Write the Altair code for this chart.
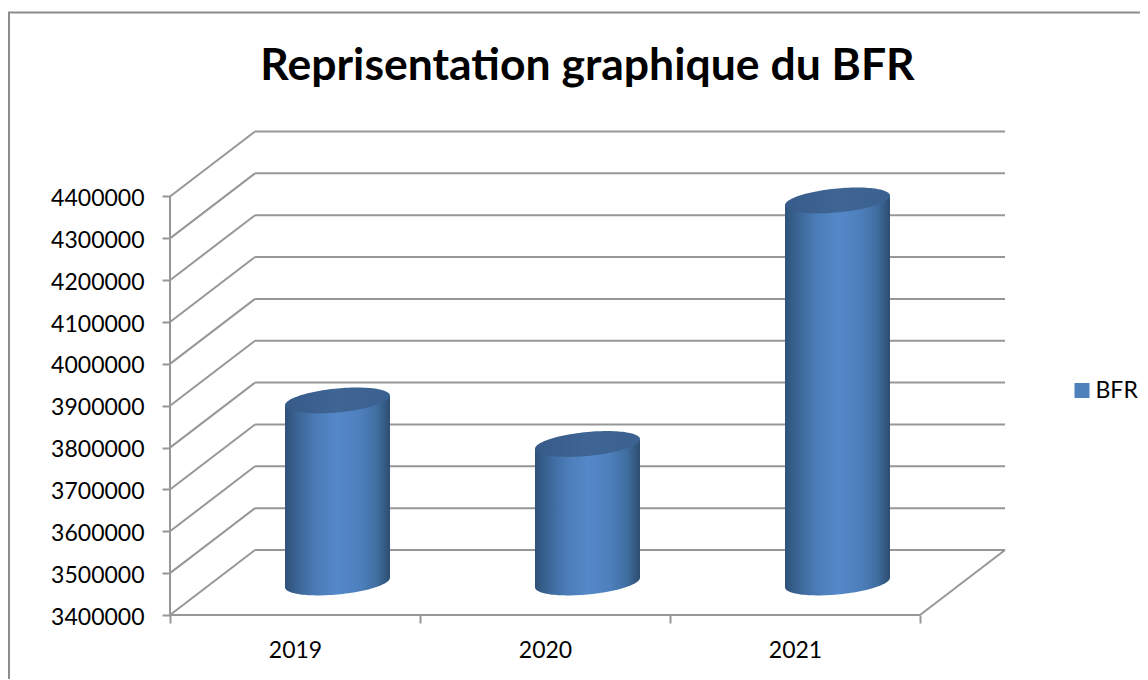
import altair as alt
import math
import pandas as pd

TITLE = "Reprisentation graphique du BFR"
years = ["2019", "2020", "2021"]
bfr = [3835000, 3731000, 4313000]
y_ticks = [3400000, 3500000, 3600000, 3700000, 3800000, 3900000, 4000000, 4100000, 4200000, 4300000, 4400000]
series_name = "BFR"

FONT = "Lato"
LINE = "#979797"
PX_PER_UNIT = 41.85 / 100000
PX_PER_CAT = 250.0
W, H = 835, 484
PAD_R, PAD_B = 135, 64
DEPTH_X = 85 / PX_PER_CAT
DEPTH_Y = 65 / PX_PER_UNIT
Y0 = y_ticks[0]
n = len(years)

xs = alt.Scale(domain=[0, W / PX_PER_CAT], nice=False, zero=False)
ys = alt.Scale(domain=[Y0, Y0 + H / PX_PER_UNIT], nice=False, zero=False)


def X(f, **k):
    return alt.X(f, type="quantitative", scale=xs, title=None, **k)


def Y(f, **k):
    return alt.Y(f, type="quantitative", scale=ys, title=None, **k)


# wire frame of the 3D box
segs = []
for v in y_ticks:
    segs.append(dict(x=0, y=v, x2=DEPTH_X, y2=v + DEPTH_Y))
    segs.append(dict(x=DEPTH_X, y=v + DEPTH_Y, x2=n + DEPTH_X, y2=v + DEPTH_Y))
segs.append(dict(x=0, y=Y0, x2=0, y2=y_ticks[-1]))
segs.append(dict(x=0, y=Y0, x2=n, y2=Y0))
segs.append(dict(x=n, y=Y0, x2=n + DEPTH_X, y2=Y0 + DEPTH_Y))

x_vals = [i / 2 for i in range(2 * n + 1)]
label_expr = "{" + ",".join(f"'{i + 0.5}':'{y}'" for i, y in enumerate(years)) + "}[''+datum.value] || ''"

wire = alt.Chart(pd.DataFrame(segs)).mark_rule(color=LINE, strokeWidth=2).encode(
    x=X("x", axis=alt.Axis(
        values=x_vals, labelExpr=label_expr, grid=False, domain=False,
        tickColor=LINE, tickWidth=2, tickSize=8, labelOverlap=False, labelFlush=False,
        tickOpacity={"condition": {"test": "datum.value % 1 == 0", "value": 1}, "value": 0},
        labelFont=FONT, labelFontSize=23, labelColor="#000000", labelPadding=34,
        labelBaseline="alphabetic", labelAlign="center")),
    y=Y("y", axis=alt.Axis(
        values=y_ticks, format="d", grid=False, domain=False,
        tickColor=LINE, tickWidth=2, tickSize=8, labelOverlap=False, labelFlush=False,
        labelOffset=2,
        labelFont=FONT, labelFontSize=23, labelColor="#000000", labelPadding=18)),
    x2=alt.X2("x2"),
    y2=alt.Y2("y2"),
)

# outer chart frame
frame_l = alt.Chart(pd.DataFrame({"a": [0]})).mark_rule(color="#8c8c8c", strokeWidth=2).encode(
    x=alt.value(-161), y=alt.value(-118.5), y2=alt.value(H + PAD_B))
frame_t = alt.Chart(pd.DataFrame({"a": [0]})).mark_rule(color="#8c8c8c", strokeWidth=2).encode(
    x=alt.value(-162), x2=alt.value(W + PAD_R), y=alt.value(-118.5))

# cylinders
A = 52.5 / PX_PER_CAT          # half-width
B = 12.0 / (PX_PER_UNIT)       # minor half-height
K = 4.8 / (PX_PER_UNIT)        # tilt
us = [math.cos(math.pi * (1 - i / 60)) for i in range(61)]

body_fill = alt.Gradient(
    gradient="linear", x1=0, y1=0, x2=1, y2=0,
    stops=[
        alt.GradientStop(color="#2e5179", offset=0),
        alt.GradientStop(color="#3b6595", offset=0.12),
        alt.GradientStop(color="#4b7cb8", offset=0.3),
        alt.GradientStop(color="#5588c8", offset=0.5),
        alt.GradientStop(color="#4d7fbc", offset=0.72),
        alt.GradientStop(color="#3f6d9f", offset=0.88),
        alt.GradientStop(color="#2d4d70", offset=1),
    ],
)
cap_fill = alt.Gradient(
    gradient="linear", x1=0, y1=0, x2=1, y2=0,
    stops=[alt.GradientStop(color="#375b89", offset=0),
           alt.GradientStop(color="#3f6595", offset=0.5),
           alt.GradientStop(color="#3a6190", offset=1)],
)

cyl_layers = []
for i, value in enumerate(bfr):
    cx = i + 0.5 + DEPTH_X / 2
    base = Y0 + DEPTH_Y / 2
    top = value + DEPTH_Y / 2
    body = pd.DataFrame([
        dict(xp=cx + A * u,
             top=top + K * u,
             bot=base + K * u - B * math.sqrt(max(0, 1 - u * u)))
        for u in us])
    cap = pd.DataFrame([
        dict(xp=cx + A * u,
             top=top + K * u + B * math.sqrt(max(0, 1 - u * u)),
             bot=top + K * u - B * math.sqrt(max(0, 1 - u * u)))
        for u in us])
    for df, fill in ((body, body_fill), (cap, cap_fill)):
        cyl_layers.append(
            alt.Chart(df).mark_area(color=fill, interpolate="linear").encode(
                x=X("xp"), y=Y("top"), y2=alt.Y2("bot")))

# legend
legend_src = alt.Chart(pd.DataFrame({"s": [series_name], "x": [0], "y": [Y0]})).mark_square(
    size=225, opacity=0, filled=True).encode(
    x=X("x"), y=Y("y"),
    color=alt.Color("s:N", scale=alt.Scale(domain=[series_name], range=["#4F81BD"]),
                    legend=alt.Legend(title=None, orient="none", legendX=900.5, legendY=248,
                                      symbolType="square", symbolSize=225, symbolOpacity=1,
                                      symbolStrokeWidth=0, labelFont=FONT, labelFontSize=23,
                                      labelColor="#000000", labelOffset=2)))

chart = alt.layer(wire, frame_l, frame_t, *cyl_layers, legend_src).properties(
    width=W, height=H,
    title=alt.TitleParams(TITLE, font=FONT, fontSize=44.5, fontWeight="bold", color="#000000",
                          anchor="middle", baseline="alphabetic", offset=-112.5),
    padding={"left": 162, "top": 123, "right": PAD_R, "bottom": PAD_B},
    autosize=alt.AutoSizeParams(type="none"),
).configure_view(stroke=None)

chart.save("out.html", embed_options={"renderer": "svg", "actions": False})
